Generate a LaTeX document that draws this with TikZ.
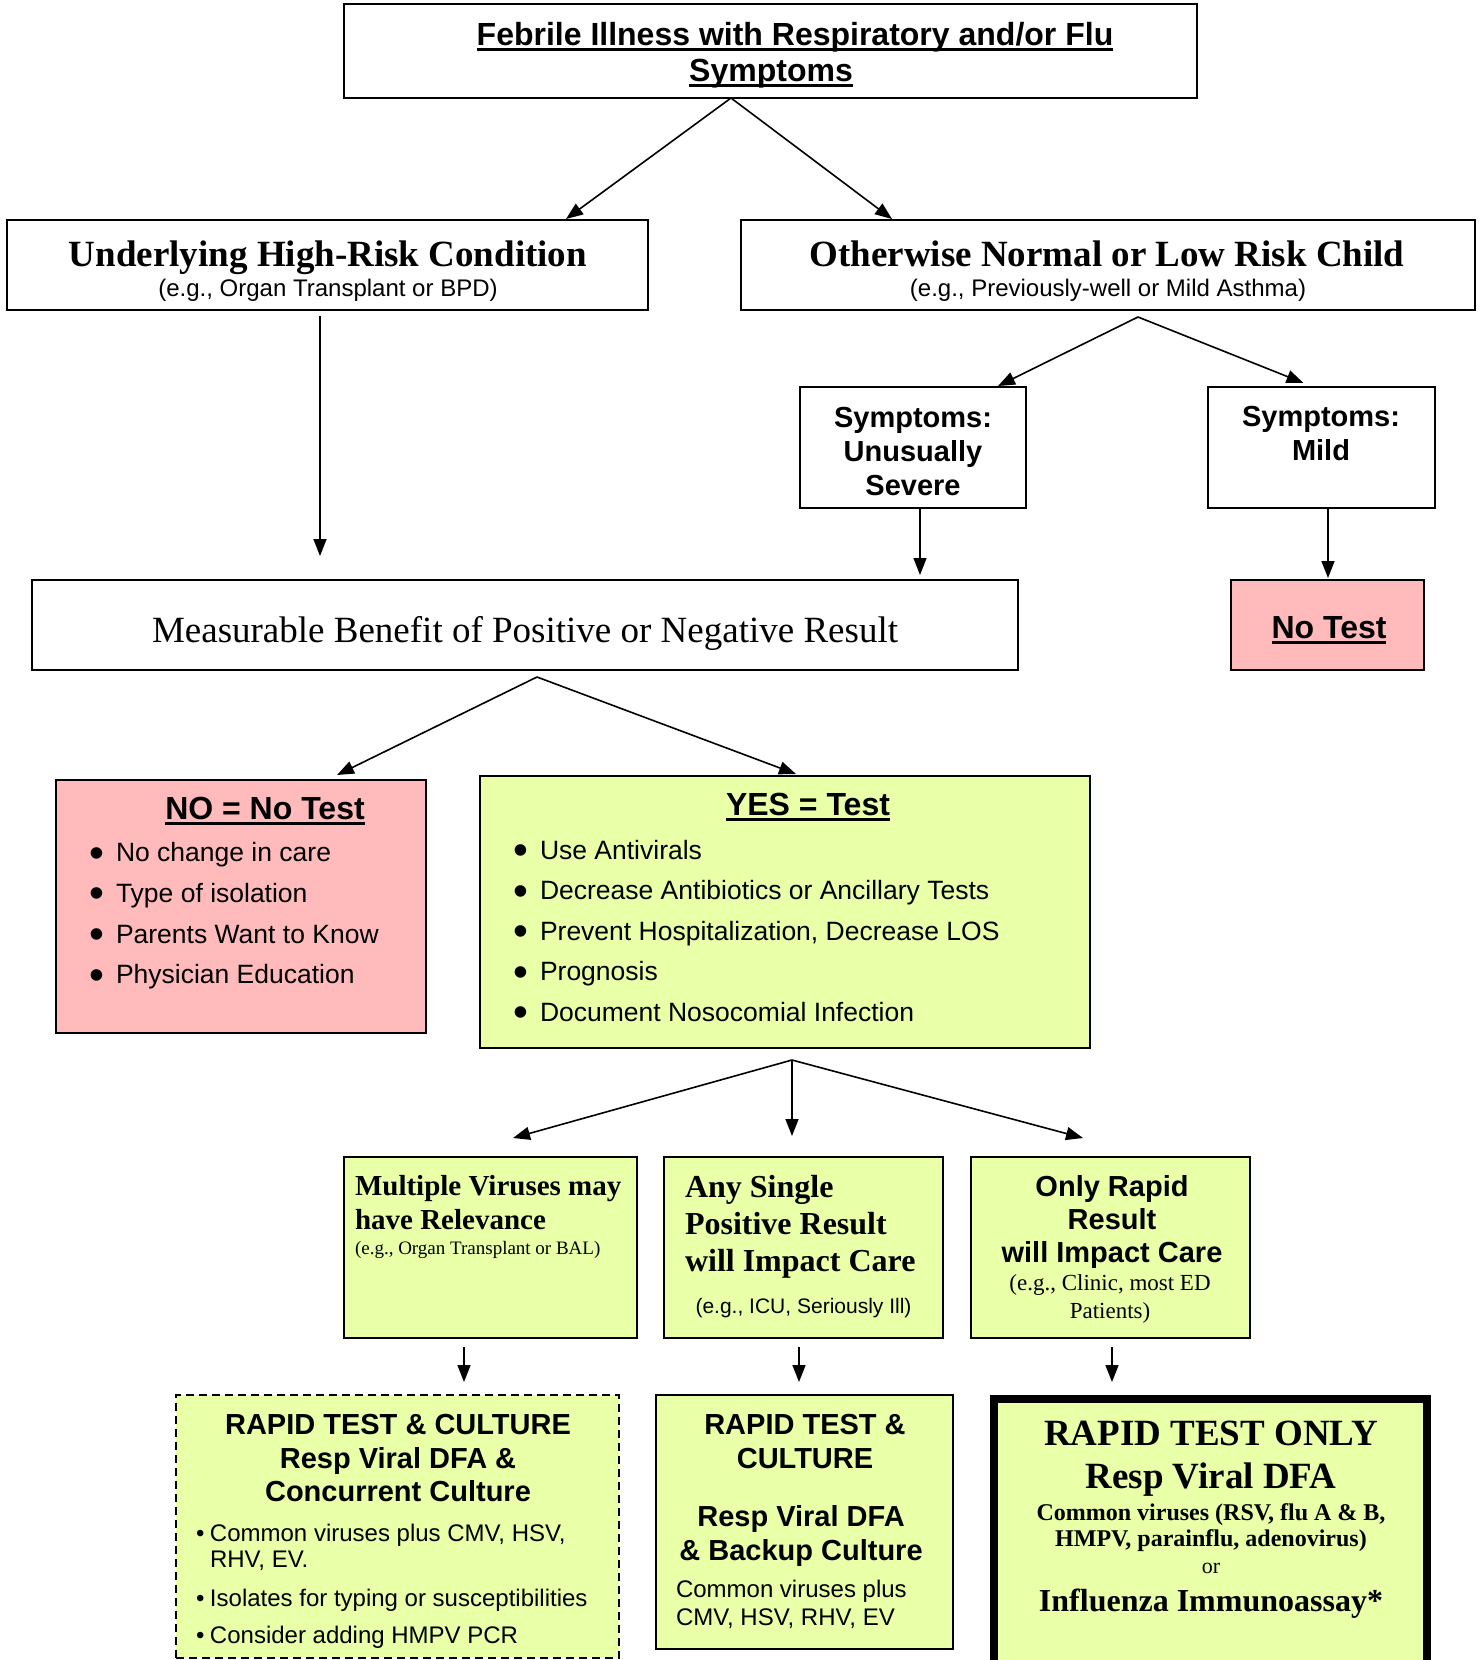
\documentclass[tikz,border=0pt]{standalone}
\usepackage{fontspec}
\usepackage{graphicx}
\setmainfont{Liberation Serif}
\setsansfont{Liberation Sans}
\usetikzlibrary{arrows.meta}
\definecolor{pinkfill}{RGB}{255,187,187}
\definecolor{greenfill}{RGB}{233,255,168}
\newsavebox\ulbox
\newcommand\ulx[1]{\sbox\ulbox{#1}\rlap{\rule[-0.17em]{\wd\ulbox}{0.09em}}\usebox\ulbox}
\newcommand\fsz[2]{\fontsize{#1}{#2}\selectfont}
\newcommand\bul[1]{\makebox[#1][l]{•}}
\newcommand\bigbul[1]{\makebox[#1][l]{\raisebox{-0.2em}{\scalebox{1.6}{•}}}}
\begin{document}
\begin{tikzpicture}[x=1pt,y=-1pt,
  box/.style={draw=black,line width=2.2pt,inner sep=0pt,outer sep=0pt,rectangle},
  pinkbox/.style={box,fill=pinkfill},
  greenbox/.style={box,fill=greenfill},
  txt/.style={inner sep=0pt,outer sep=0pt},
  arr/.style={line width=1.6pt,-{Triangle[length=17pt,width=13pt]}},
]
\useasboundingbox (0,0) rectangle (1478,1660);
\fill[white] (0,0) rectangle (1478,1660);
\begin{scope}
\clip (0,0) rectangle (1478,1660);
% boxes
\node[box,minimum width=853pt,minimum height=94pt] (top) at (770.5,51) {};
\node[box,minimum width=641pt,minimum height=90pt] (high) at (327.5,265) {};
\node[box,minimum width=734pt,minimum height=90pt] (low) at (1108,265) {};
\node[box,minimum width=226pt,minimum height=121pt] (sev) at (913,447.5) {};
\node[box,minimum width=227pt,minimum height=121pt] (mild) at (1321.5,447.5) {};
\node[box,minimum width=986pt,minimum height=90pt] (meas) at (525,625) {};
\node[pinkbox,minimum width=193pt,minimum height=90pt] (notest) at (1327.5,625) {};
\node[pinkbox,minimum width=370pt,minimum height=253pt] (no) at (241,906.5) {};
\node[greenbox,minimum width=610pt,minimum height=272pt] (yes) at (785,912) {};
\node[greenbox,minimum width=293pt,minimum height=181pt] (multi) at (490.5,1247.5) {};
\node[greenbox,minimum width=279pt,minimum height=181pt] (single) at (803.5,1247.5) {};
\node[greenbox,minimum width=279pt,minimum height=181pt] (rapid) at (1110.5,1247.5) {};
\node[greenbox,dash pattern=on 8pt off 5pt,line width=2.6pt,minimum width=443pt,minimum height=263pt] (rc1) at (397.5,1526.5) {};
\node[greenbox,minimum width=297pt,minimum height=254pt] (rc2) at (804.5,1522) {};
\node[greenbox,line width=8.5pt,minimum width=433pt,minimum height=291pt] (rto) at (1210.5,1544.5) {};
\end{scope}

% texts
\node[txt,font=\sffamily\bfseries\fsz{32}{36}] (topA) at (795,37) {\ulx{Febrile Illness with Respiratory and/or Flu}};
\node[txt,font=\sffamily\bfseries\fsz{32}{36}] (topB) at (771,74) {\ulx{Symptoms}};

\node[txt,font=\rmfamily\bfseries\fsz{37}{40}] (highA) at (328,258) {Underlying High-Risk Condition};
\node[txt,font=\sffamily\fsz{24}{26}] (highB) at (328,290) {(e.g., Organ Transplant or BPD)};
\node[txt,font=\rmfamily\bfseries\fsz{37}{40}] (lowA) at (1107,254) {Otherwise Normal or Low Risk Child};
\node[txt,font=\sffamily\fsz{24}{26}] (lowB) at (1108,290) {(e.g., Previously-well or Mild Asthma)};

\node[txt,align=center,font=\sffamily\bfseries\fsz{29}{34}] (sevT) at (913,452) {Symptoms:\\Unusually\\Severe};
\node[txt,align=center,font=\sffamily\bfseries\fsz{29}{34}] (mildT) at (1321,434) {Symptoms:\\Mild};

\node[txt,font=\rmfamily\fsz{37}{40}] (measT) at (525,633) {Measurable Benefit of Positive or Negative Result};
\node[txt,font=\sffamily\bfseries\fsz{32}{36}] (notestT) at (1329,630) {\ulx{No Test}};

\node[txt,font=\sffamily\bfseries\fsz{32}{36}] (noT) at (265,811) {\ulx{NO = No Test}};
\node[txt,anchor=west,align=left,font=\sffamily\fsz{26.5}{40.7}] (noL) at (89,916) {\bigbul{27pt}No change in care\\\bigbul{27pt}Type of isolation\\\bigbul{27pt}Parents Want to Know\\\bigbul{27pt}Physician Education};

\node[txt,font=\sffamily\bfseries\fsz{32}{36}] (yesT) at (808,807) {\ulx{YES = Test}};
\node[txt,anchor=west,align=left,font=\sffamily\fsz{26.5}{40.5}] (yesL) at (513,933.5) {\bigbul{27pt}Use Antivirals\\\bigbul{27pt}Decrease Antibiotics or Ancillary Tests\\\bigbul{27pt}Prevent Hospitalization, Decrease LOS\\\bigbul{27pt}Prognosis\\\bigbul{27pt}Document Nosocomial Infection};

\node[txt,anchor=west,align=left,font=\rmfamily\bfseries\fsz{29}{34}] (multiT) at (355,1203) {Multiple Viruses may\\have Relevance};
\node[txt,anchor=west,font=\rmfamily\fsz{19}{22}] (multiS) at (355,1250) {(e.g., Organ Transplant or BAL)};

\node[txt,anchor=west,align=left,font=\rmfamily\bfseries\fsz{32}{37}] (singleT) at (685,1227) {Any Single\\Positive Result\\will Impact Care};
\node[txt,font=\sffamily\fsz{21}{24}] (singleS) at (803.5,1308) {(e.g., ICU, Seriously Ill)};

\node[txt,align=center,font=\sffamily\bfseries\fsz{29}{33}] (rapidT) at (1112,1222) {Only Rapid\\Result\\will Impact Care};
\node[txt,align=center,font=\rmfamily\fsz{23}{28}] (rapidS) at (1110,1299) {(e.g., Clinic, most ED\\Patients)};

\node[txt,align=center,font=\sffamily\bfseries\fsz{29}{33.5}] (rc1T) at (398,1458) {RAPID TEST \& CULTURE\\Resp Viral DFA \&\\Concurrent Culture};
\node[txt,anchor=west,align=left,font=\sffamily\fsz{24}{26}] (rc1a) at (196,1547) {\bul{14pt}Common viruses plus CMV, HSV,\\\hspace*{14pt}RHV, EV.};
\node[txt,anchor=west,font=\sffamily\fsz{24}{26}] (rc1b) at (196,1600) {\bul{14pt}Isolates for typing or susceptibilities};
\node[txt,anchor=west,font=\sffamily\fsz{24}{26}] (rc1c) at (196,1637) {\bul{14pt}Consider adding HMPV PCR};

\node[txt,align=center,font=\sffamily\bfseries\fsz{29}{34}] (rc2T) at (805,1441) {RAPID TEST \&\\CULTURE};
\node[txt,align=center,font=\sffamily\bfseries\fsz{29}{34}] (rc2M) at (801,1536) {Resp Viral DFA\\\& Backup Culture};
\node[txt,anchor=west,align=left,font=\sffamily\fsz{24}{28}] (rc2B) at (676,1604) {Common viruses plus\\CMV, HSV, RHV, EV};

\node[txt,align=center,font=\rmfamily\bfseries\fsz{37}{43}] (rtoT) at (1211,1459) {RAPID TEST ONLY\\Resp Viral DFA};
\node[txt,align=center,font=\rmfamily\bfseries\fsz{24}{26}] (rtoC) at (1211,1528) {Common viruses (RSV, flu A \& B,\\HMPV, parainflu, adenovirus)};
\node[txt,font=\rmfamily\fsz{22}{24}] (rtoOr) at (1211,1568) {or};
\node[txt,font=\rmfamily\bfseries\fsz{32}{36}] (rtoI) at (1211,1604) {Influenza Immunoassay*};

% connectors
\draw[arr] ([xshift=-39.5pt]top.south) -- ([xshift=238.5pt,yshift=1pt]high.north);
\draw[arr] ([xshift=-39.5pt]top.south) -- ([xshift=-216pt,yshift=1pt]low.north);
\draw[arr] ([xshift=-7.5pt,yshift=-6pt]high.south) -- ([xshift=-205pt,yshift=24pt]meas.north);
\draw[arr] ([xshift=30pt,yshift=-7pt]low.south) -- ([xshift=85pt,yshift=1pt]sev.north);
\draw[arr] ([xshift=30pt,yshift=-7pt]low.south) -- ([xshift=-18pt,yshift=4pt]mild.north);
\draw[arr] ([xshift=7pt]sev.south) -- ([xshift=395pt,yshift=5pt]meas.north);
\draw[arr] ([xshift=6.5pt]mild.south) -- ([xshift=0.5pt,yshift=2pt]notest.north);
\draw[arr] ([xshift=12pt,yshift=-7pt]meas.south) -- ([xshift=96pt,yshift=5pt]no.north);
\draw[arr] ([xshift=12pt,yshift=-7pt]meas.south) -- ([xshift=11pt,yshift=2pt]yes.north);
\draw[arr] ([xshift=7pt,yshift=-12pt]yes.south) -- ([xshift=22.5pt,yshift=19pt]multi.north);
\draw[arr] ([xshift=7pt,yshift=-12pt]yes.south) -- ([xshift=-11.5pt,yshift=21pt]single.north);
\draw[arr] ([xshift=7pt,yshift=-12pt]yes.south) -- ([xshift=-27.5pt,yshift=19pt]rapid.north);
\draw[arr] ([xshift=-26.5pt,yshift=-9pt]multi.south) -- ([xshift=66.5pt,yshift=13pt]rc1.north);
\draw[arr] ([xshift=-4.5pt,yshift=-9pt]single.south) -- ([xshift=-5.5pt,yshift=13pt]rc2.north);
\draw[arr] ([xshift=1.5pt,yshift=-9pt]rapid.south) -- ([xshift=-98.5pt,yshift=17pt]rto.north);
\end{tikzpicture}
\end{document}
